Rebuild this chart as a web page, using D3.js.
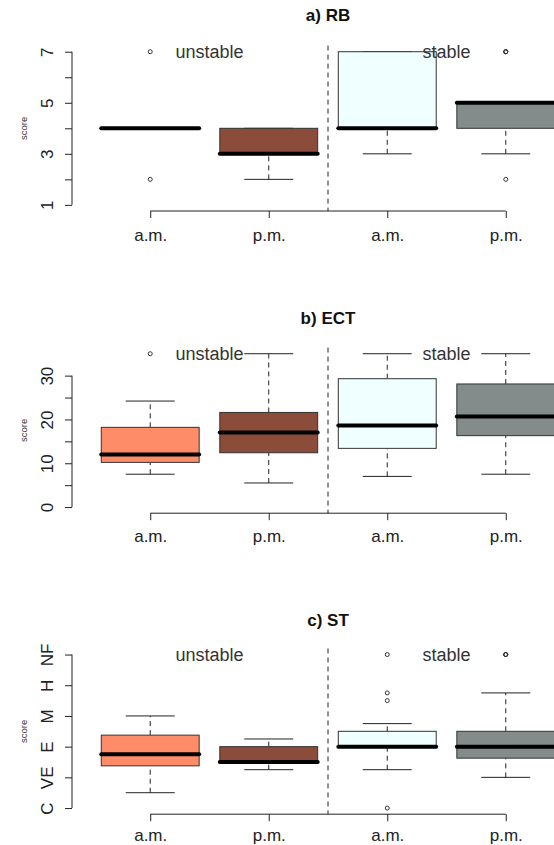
<!DOCTYPE html>
<html>
<head>
<meta charset="utf-8">
<script src="https://cdn.jsdelivr.net/npm/d3@7"></script>
<style>
  body { margin: 0; background: #fff; }
  svg text { font-family: "Liberation Sans", Arial, sans-serif; }
</style>
</head>
<body>
<div id="chart"></div>
<script>
// groups on the x axis
const positions = [1, 2, 3, 4];
const groupLabels = ["a.m.", "p.m.", "a.m.", "p.m."];
const boxFills = ["#FF8C69", "#8B4C39", "#F0FFFF", "#838B8B"];
const stabilityLabels = ["unstable", "stable"];
const stabilityPos = [1.5, 3.5];

// box stats per group: [lower whisker, q1, median, q3, upper whisker]
const rbStats = [
  [4, 4, 4, 4, 4],
  [2, 3, 3, 4, 4],
  [3, 4, 4, 7, 7],
  [3, 4, 5, 5, 5]
];
const rbOutliers = [[7, 2], [], [], [7, 7, 7, 2]];
const rbTicks = [1, 2, 3, 4, 5, 6, 7];
const rbTickLabels = ["1", "", "3", "", "5", "", "7"];

const ectStats = [
  [7.5, 10.2, 12, 18.2, 24.2],
  [5.5, 12.4, 17, 21.6, 35],
  [7, 13.4, 18.6, 29.3, 35],
  [7.5, 16.3, 20.7, 28.1, 35]
];
const ectOutliers = [[35], [], [], []];
const ectTicks = [0, 5, 10, 15, 20, 25, 30];
const ectTickLabels = ["0", "", "10", "", "20", "", "30"];

const stStats = [
  [1.5, 2.375, 2.75, 3.375, 4],
  [2.25, 2.5, 2.5, 3, 3.25],
  [2.25, 3, 3, 3.5, 3.75],
  [2, 2.625, 3, 3.5, 4.75]
];
const stOutliers = [[], [], [6, 4.75, 4.5, 1], [6, 6, 6]];
const stTicks = [1, 2, 3, 4, 5, 6];
const stTickLabels = ["C", "VE", "E", "M", "H", "NF"];

const panels = [
  { title: "a) RB", stats: rbStats, outliers: rbOutliers, ylim: [1, 7], ticks: rbTicks, tickLabels: rbTickLabels, top: 45.6, bottom: 211, titleY: 21, labelY: 30 },
  { title: "b) ECT", stats: ectStats, outliers: ectOutliers, ylim: [0, 35], ticks: ectTicks, tickLabels: ectTickLabels, top: 347.6, bottom: 513.2, titleY: 324, labelY: 28.5 },
  { title: "c) ST", stats: stStats, outliers: stOutliers, ylim: [1, 6], ticks: stTicks, tickLabels: stTickLabels, top: 648.4, bottom: 814.2, titleY: 626, labelY: 26.5 }
];

const W = 554, H = 845;
const ink = "#222";

const svg = d3.select("#chart").append("svg")
  .attr("width", W).attr("height", H);

// R style: xlim 0.5..4.5 plus 4% on each side
const x = d3.scaleLinear().domain([0.34, 4.66]).range([72, 584]);
const boxHalf = 0.413;

panels.forEach((p) => {
  const span = p.ylim[1] - p.ylim[0];
  const y = d3.scaleLinear()
    .domain([p.ylim[0] - 0.04 * span, p.ylim[1] + 0.04 * span])
    .range([p.bottom, p.top]);

  const g = svg.append("g");

  // title
  g.append("text")
    .attr("x", x(2.5)).attr("y", p.titleY)
    .attr("text-anchor", "middle")
    .attr("font-size", 17).attr("font-weight", "bold")
    .attr("fill", "#111")
    .text(p.title);

  // y label
  g.append("text")
    .attr("transform", `translate(26.5,${(p.top + p.bottom) / 2}) rotate(-90)`)
    .attr("text-anchor", "middle")
    .attr("font-size", 9.5).attr("fill", "#333")
    .text("score");

  // y axis
  const yAxis = d3.axisLeft(y)
    .tickValues(p.ticks)
    .tickFormat((d, i) => p.tickLabels[i])
    .tickSize(7).tickSizeOuter(0);
  const ya = g.append("g").attr("transform", `translate(${x(0.34)},0)`).call(yAxis);
  ya.select(".domain").remove();
  ya.append("line")
    .attr("y1", y(p.ticks[0])).attr("y2", y(p.ticks[p.ticks.length - 1]))
    .attr("stroke", ink);
  ya.selectAll(".tick line").attr("stroke", ink);
  ya.selectAll(".tick text")
    .attr("x", 0).attr("dy", null)
    .attr("text-anchor", "middle")
    .attr("transform", "translate(-19,0) rotate(-90)")
    .attr("font-size", 17).attr("fill", ink)
    .style("font-family", "Liberation Sans, Arial, sans-serif");

  // x axis
  const xAxis = d3.axisBottom(x)
    .tickValues(positions)
    .tickFormat((d, i) => groupLabels[i])
    .tickSize(7).tickSizeOuter(0);
  const xa = g.append("g").attr("transform", `translate(0,${p.bottom})`).call(xAxis);
  xa.select(".domain").remove();
  xa.append("line")
    .attr("x1", x(1)).attr("x2", x(4))
    .attr("stroke", ink);
  xa.selectAll(".tick line").attr("stroke", ink);
  xa.selectAll(".tick text")
    .attr("y", p.labelY).attr("dy", null)
    .attr("font-size", 17).attr("fill", ink)
    .style("font-family", "Liberation Sans, Arial, sans-serif");

  // separator
  g.append("line")
    .attr("x1", x(2.5)).attr("x2", x(2.5))
    .attr("y1", p.top).attr("y2", p.bottom)
    .attr("stroke", ink).attr("stroke-dasharray", "5,4");

  const boxes = g.selectAll(".box")
    .data(p.stats)
    .enter().append("g").attr("class", "box");

  // whiskers
  boxes.append("line")
    .attr("x1", (d, i) => x(positions[i])).attr("x2", (d, i) => x(positions[i]))
    .attr("y1", (d) => y(d[0])).attr("y2", (d) => y(d[1]))
    .attr("stroke", ink).attr("stroke-dasharray", "5,4");
  boxes.append("line")
    .attr("x1", (d, i) => x(positions[i])).attr("x2", (d, i) => x(positions[i]))
    .attr("y1", (d) => y(d[3])).attr("y2", (d) => y(d[4]))
    .attr("stroke", ink).attr("stroke-dasharray", "5,4");
  // caps
  [0, 4].forEach((k) => {
    boxes.append("line")
      .attr("x1", (d, i) => x(positions[i] - boxHalf / 2))
      .attr("x2", (d, i) => x(positions[i] + boxHalf / 2))
      .attr("y1", (d) => y(d[k])).attr("y2", (d) => y(d[k]))
      .attr("stroke", ink);
  });
  // box
  boxes.append("rect")
    .attr("x", (d, i) => x(positions[i] - boxHalf))
    .attr("width", x(1 + boxHalf) - x(1 - boxHalf))
    .attr("y", (d) => y(d[3]))
    .attr("height", (d) => y(d[1]) - y(d[3]))
    .attr("fill", (d, i) => boxFills[i])
    .attr("stroke", "#333").attr("stroke-width", 1);
  // median
  boxes.append("line")
    .attr("x1", (d, i) => x(positions[i] - boxHalf))
    .attr("x2", (d, i) => x(positions[i] + boxHalf))
    .attr("y1", (d) => y(d[2])).attr("y2", (d) => y(d[2]))
    .attr("stroke", "#000").attr("stroke-width", 4)
    .attr("stroke-linecap", "round");

  // outliers
  p.outliers.forEach((vals, i) => {
    g.selectAll(null)
      .data(vals)
      .enter().append("circle")
      .attr("cx", x(positions[i]))
      .attr("cy", (v) => y(v))
      .attr("r", 2)
      .attr("fill", "none")
      .attr("stroke", "#333").attr("stroke-width", 1);
  });

  // stability labels
  g.selectAll(".stab")
    .data(stabilityLabels)
    .enter().append("text")
    .attr("x", (d, i) => x(stabilityPos[i]))
    .attr("y", y(p.ylim[1]))
    .attr("dy", "0.35em")
    .attr("text-anchor", "middle")
    .attr("font-size", 18).attr("fill", "#333")
    .text((d) => d);
});
</script>
</body>
</html>
